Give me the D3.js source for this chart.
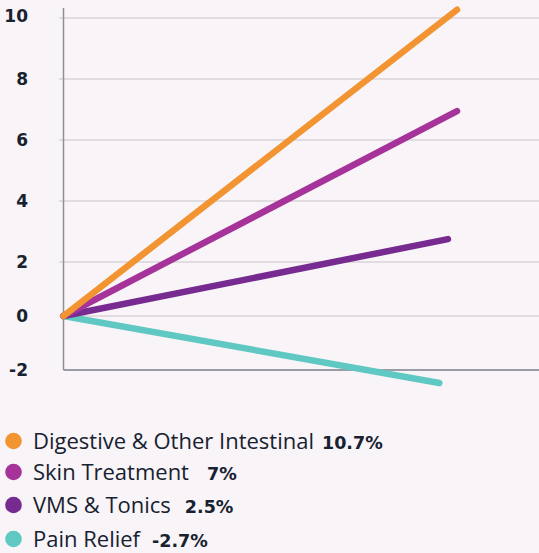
<!DOCTYPE html>
<html>
<head>
<meta charset="utf-8">
<script src="https://cdn.jsdelivr.net/npm/d3@7"></script>
<style>
  html, body { margin: 0; padding: 0; background: #f8f4f8; }
  svg { display: block; }
</style>
</head>
<body>
<svg id="chart" width="539" height="553"></svg>
<script>
// ---- data ----
const categories = ["Digestive & Other Intestinal", "Skin Treatment", "VMS & Tonics", "Pain Relief"];
const growthLabels = ["10.7%", "7%", "2.5%", "-2.7%"];
const startValues = [0, 0, 0, 0];
const endValues = [10.27, 6.95, 2.75, -2.48];   // plotted line end values
const endPeriod = [1.0, 1.0, 0.977, 0.955];      // relative x end of each line
const yTicks = [-2, 0, 2, 4, 6, 8, 10];
const colors = ["#f39433", "#a6339a", "#772a8f", "#5fc8c3"];

// ---- drawing ----
const svg = d3.select("#chart");
const W = 539;
const axisX = 63.5;

const y = d3.scaleLinear().domain([-2, 0, 2, 10]).range([370, 316, 262, 18]);
const x = d3.scaleLinear().domain([0, 1]).range([axisX, 457]);

// gridlines
svg.append("g").selectAll("line").data(yTicks.filter(d => d !== -2)).join("line")
  .attr("x1", 59).attr("x2", W)
  .attr("y1", d => y(d)).attr("y2", d => y(d))
  .attr("stroke", "#d9d5da").attr("stroke-width", 1.5);

// x-axis baseline
svg.append("line").attr("x1", axisX).attr("x2", W)
  .attr("y1", y(-2)).attr("y2", y(-2))
  .attr("stroke", "#7b808b").attr("stroke-width", 1.5);

// y-axis line
svg.append("line").attr("x1", axisX).attr("x2", axisX)
  .attr("y1", 8).attr("y2", y(-2))
  .attr("stroke", "#8e9099").attr("stroke-width", 1.5);

// y tick labels
svg.append("g").selectAll("text").data(yTicks).join("text")
  .attr("x", 28).attr("y", d => y(d) - (d === 10 ? 2 : 0))
  .attr("dy", "0.36em")
  .attr("text-anchor", "end")
  .attr("font-family", "'DejaVu Sans', sans-serif")
  .attr("font-weight", 700)
  .attr("font-size", 17)
  .attr("fill", "#17212f")
  .text(d => d);

// lines
const series = categories.map((c, i) => ({
  name: c, color: colors[i],
  pts: [[0, startValues[i]], [endPeriod[i], endValues[i]]]
}));
const line = d3.line().x(d => x(d[0])).y(d => y(d[1]));
svg.append("g").selectAll("path").data(series.slice().reverse()).join("path")
  .attr("d", d => line(d.pts))
  .attr("fill", "none")
  .attr("stroke", d => d.color)
  .attr("stroke-width", 6.5)
  .attr("stroke-linecap", "round");

// legend
const legendY = [441, 472, 505, 539];
const gaps = [8, 18, 14, 12];
const lg = svg.append("g");
categories.forEach((c, i) => {
  lg.append("circle").attr("cx", 13.5).attr("cy", legendY[i]).attr("r", 8.3).attr("fill", colors[i]);
  const t = lg.append("text").attr("x", 33).attr("y", legendY[i]).attr("dy", "0.36em")
    .attr("font-family", "'Open Sans', Lato, sans-serif")
    .attr("font-size", 22).attr("fill", "#17212f");
  t.append("tspan").text(c);
  t.append("tspan").attr("dx", gaps[i])
    .attr("font-family", "'DejaVu Sans', sans-serif")
    .attr("font-size", 17.5)
    .attr("font-weight", 700).text(growthLabels[i]);
});
</script>
</body>
</html>
